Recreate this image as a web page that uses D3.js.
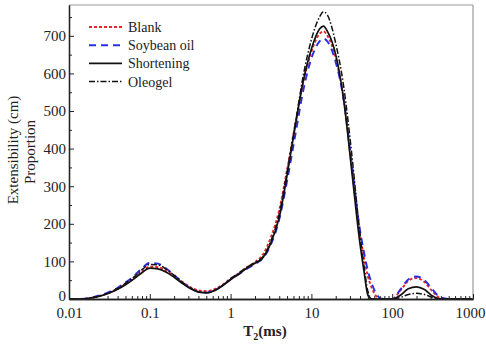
<!DOCTYPE html>
<html>
<head>
<meta charset="utf-8">
<script src="https://cdn.jsdelivr.net/npm/d3@7"></script>
<style>
  body { margin: 0; background: #fff; }
  text { font-family: "Liberation Serif", "Times New Roman", serif; fill: #222; }
</style>
</head>
<body>
<div id="chart"></div>
<script>
// T2 relaxation time grid (ms)
var t2 = [0.01, 0.014, 0.02, 0.03, 0.04, 0.05, 0.065, 0.08, 0.1,
  0.126, 0.158, 0.2, 0.251, 0.316, 0.398, 0.501, 0.631, 0.794,
  1, 1.26, 1.58, 2, 2.51, 3.16, 3.98, 5.01, 6.31, 7.94,
  10, 12.6, 14.1, 15.8, 20, 25.1, 31.6, 39.8, 44.7, 50.1, 56.2, 63.1,
  70.8, 79.4, 100, 126, 158, 200, 251, 316, 398, 501, 1000];

var blank = [0, 0, 4, 15, 27, 40, 57, 73, 86,
  85, 76, 62, 46, 32, 23, 21, 26, 38,
  54, 68, 84, 98, 118, 165, 235, 345, 465, 578,
  658, 705, 712, 700, 640, 530, 350, 175, 110, 60,
  28, 8, 0, 0, 0, 22, 48, 56, 45, 20, 2, 0, 0];

var soybean = [0, 0, 5, 17, 30, 44, 63, 82, 96,
  94, 82, 64, 45, 29, 19, 17, 23, 36,
  52, 66, 80, 93, 108, 145, 210, 315, 435, 555,
  640, 685, 693, 685, 630, 530, 360, 185, 125, 75,
  40, 15, 2, 0, 0, 25, 52, 60, 50, 25, 4, 0, 0];

var shortening = [0, 0, 4, 14, 26, 38, 55, 70, 82,
  80, 72, 58, 42, 28, 19, 16, 22, 35,
  52, 66, 82, 95, 110, 150, 215, 330, 460, 580,
  665, 718, 726, 712, 650, 530, 340, 150, 75, 10,
  0, 0, 0, 0, 0, 10, 27, 32, 25, 8, 0, 0, 0];

var oleogel = [0, 0, 4, 15, 28, 42, 60, 78, 92,
  91, 80, 63, 45, 30, 19, 17, 23, 36,
  54, 69, 84, 97, 112, 155, 225, 340, 465, 595,
  690, 750, 764, 755, 680, 565, 385, 175, 90, 20,
  0, 0, 0, 0, 0, 4, 12, 15, 12, 4, 0, 0, 0];

var seriesNames = ["Blank", "Soybean oil", "Shortening", "Oleogel"];
var xTicks = [0.01, 0.1, 1, 10, 100, 1000];
var yTicks = [0, 100, 200, 300, 400, 500, 600, 700];

var styles = {
  "Blank":       { color: "#e8262a", dash: "3,2",         width: 1.9 },
  "Soybean oil": { color: "#2a2ee0", dash: "7,5",         width: 1.9 },
  "Shortening":  { color: "#111",    dash: null,          width: 1.7 },
  "Oleogel":     { color: "#111",    dash: "6,2,1.5,2",   width: 1.5 }
};

drawChart();

function drawChart() {
  var width = 486, height = 344;
  var margin = { top: 5, right: 13, bottom: 45, left: 69 };
  var w = width - margin.left - margin.right;
  var h = height - margin.top - margin.bottom;
  var serif = "'Liberation Serif', 'Times New Roman', serif";

  var svg = d3.select("#chart").append("svg")
    .attr("width", width)
    .attr("height", height);

  var g = svg.append("g")
    .attr("transform", "translate(" + margin.left + "," + margin.top + ")");

  var x = d3.scaleLog().domain([0.01, 1000]).range([0, w]);
  var y = d3.scaleLinear().domain([0, 782]).range([h, 0]);

  var data = [blank, soybean, shortening, oleogel];

  var line = d3.line()
    .x(function (d) { return x(d[0]); })
    .y(function (d) { return y(d[1]); })
    .curve(d3.curveMonotoneX);

  g.append("defs").append("clipPath").attr("id", "plotClip")
    .append("rect").attr("width", w).attr("height", h);

  var curves = g.append("g").attr("clip-path", "url(#plotClip)");
  for (var i = 0; i < seriesNames.length; i++) {
    var st = styles[seriesNames[i]];
    var pts = t2.map(function (t, k) { return [t, data[i][k]]; });
    curves.append("path")
      .datum(pts)
      .attr("fill", "none")
      .attr("stroke", st.color)
      .attr("stroke-width", st.width)
      .attr("stroke-dasharray", st.dash)
      .attr("d", line);
  }

  // frame: top and right lighter
  g.append("line").attr("x1", 0).attr("x2", w).attr("y1", 0).attr("y2", 0)
    .attr("stroke", "#999").attr("stroke-width", 1.2);
  g.append("line").attr("x1", w).attr("x2", w).attr("y1", 0).attr("y2", h)
    .attr("stroke", "#999").attr("stroke-width", 1.2);

  // minor ticks
  var minorX = [];
  for (var p = -2; p < 3; p++) {
    for (var m = 2; m < 10; m++) minorX.push(m * Math.pow(10, p));
  }
  var minorY = [];
  for (var v = 50; v < 782; v += 100) minorY.push(v);

  var xAxis = g.append("g")
    .attr("transform", "translate(0," + h + ")")
    .call(d3.axisBottom(x).tickValues(xTicks).tickSizeInner(-5).tickSizeOuter(0)
      .tickPadding(8).tickFormat(function (d) { return String(d); }));
  g.append("g")
    .attr("transform", "translate(0," + h + ")")
    .call(d3.axisBottom(x).tickValues(minorX).tickSizeInner(-3).tickSizeOuter(0)
      .tickFormat(""));

  var yAxis = g.append("g")
    .call(d3.axisLeft(y).tickValues(yTicks).tickSizeInner(-5).tickSizeOuter(0)
      .tickPadding(3));
  g.append("g")
    .call(d3.axisLeft(y).tickValues(minorY).tickSizeInner(-3).tickSizeOuter(0)
      .tickFormat(""));

  g.selectAll(".domain").attr("stroke", "#222").attr("stroke-width", 1.3);
  g.selectAll(".tick line").attr("stroke", "#222");
  xAxis.attr("font-family", serif).attr("font-size", 15);
  yAxis.attr("font-family", serif).attr("font-size", 15);
  xAxis.selectAll("text").attr("fill", "#222");
  yAxis.selectAll("text").attr("fill", "#222");
  yAxis.select(".tick text").attr("dy", "0.1em");
  // keep the last x label inside the page edge
  xAxis.selectAll(".tick text").filter(function (d) { return d === 1000; })
    .attr("dx", -3);

  // axis titles
  var xt = svg.append("text")
    .attr("x", 265).attr("y", 336)
    .attr("text-anchor", "middle")
    .style("font-size", "15px").style("font-weight", "bold");
  xt.append("tspan").text("T");
  xt.append("tspan").attr("dy", 4).style("font-size", "10px").text("2");
  xt.append("tspan").attr("dy", -4).text("(ms)");

  svg.append("text")
    .attr("transform", "translate(18,150) rotate(-90)")
    .attr("text-anchor", "middle")
    .style("font-size", "15px")
    .text("Extensibility (cm)");
  svg.append("text")
    .attr("transform", "translate(35,152) rotate(-90)")
    .attr("text-anchor", "middle")
    .style("font-size", "15px")
    .text("Proportion");

  // legend
  var legend = svg.append("g").attr("transform", "translate(89,27)");
  seriesNames.forEach(function (name, i) {
    var st = styles[name];
    var row = legend.append("g").attr("transform", "translate(0," + (i * 18.2) + ")");
    row.append("line")
      .attr("x1", 0).attr("x2", 33).attr("y1", 0).attr("y2", 0)
      .attr("stroke", st.color)
      .attr("stroke-width", st.width)
      .attr("stroke-dasharray", st.dash);
    row.append("text")
      .attr("x", 39).attr("y", 5)
      .style("font-size", "14px")
      .text(name);
  });
}
</script>
</body>
</html>
